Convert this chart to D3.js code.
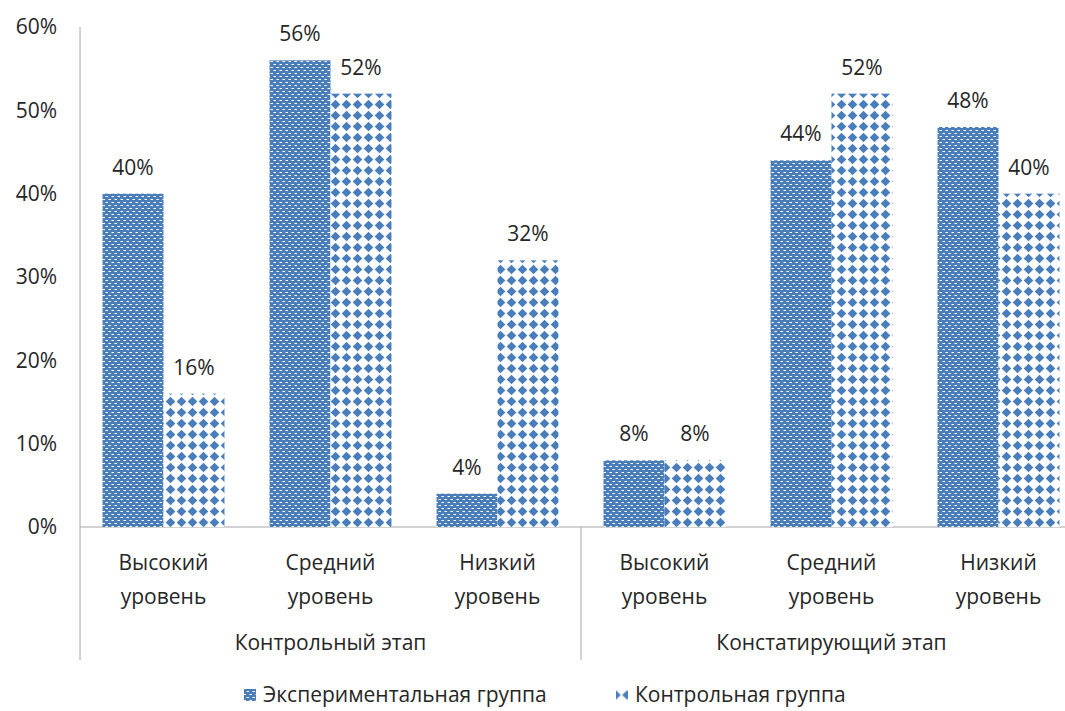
<!DOCTYPE html>
<html>
<head>
<meta charset="utf-8">
<script src="https://cdn.jsdelivr.net/npm/d3@7"></script>
<style>
  body { margin: 0; background: #fff; }
  svg { display: block; }
  text { font-family: "Open Sans", "Noto Sans", sans-serif; fill: #262626; }
</style>
</head>
<body>
<svg id="chart" width="1065" height="711"></svg>
<script>
// data
const stages = ["Контрольный этап", "Констатирующий этап"];
const levels = ["Высокий уровень", "Средний уровень", "Низкий уровень"];
const seriesNames = ["Экспериментальная группа", "Контрольная группа"];
const experimental = [40, 56, 4, 8, 44, 48];
const control = [16, 52, 32, 8, 52, 40];
const yTicks = [0, 10, 20, 30, 40, 50, 60];

const blue = "#4a7ebb";
const fs = 21;
const svg = d3.select("#chart");
const defs = svg.append("defs");
let legX = [244, 616];

// weave pattern for experimental group
let p1 = defs.append("pattern").attr("id", "patExp")
    .attr("patternUnits", "userSpaceOnUse").attr("width", 6).attr("height", 6);
p1.append("rect").attr("width", 6).attr("height", 6).attr("fill", blue);
p1.append("rect").attr("x", 0.5).attr("y", 1).attr("width", 2.5).attr("height", 1).attr("fill", "#fff");
p1.append("rect").attr("x", 3.5).attr("y", 4).attr("width", 2.5).attr("height", 1).attr("fill", "#fff");

// diamond pattern for control group (bars + shifted copy for legend)
function diamonds(id, x0, y0) {
    let p = defs.append("pattern").attr("id", id)
        .attr("patternUnits", "userSpaceOnUse").attr("width", 11).attr("height", 11)
        .attr("x", x0).attr("y", y0);
    p.append("rect").attr("width", 11).attr("height", 11).attr("fill", "#fff");
    p.append("path").attr("d", "M5.5,0.7 L10.3,5.5 L5.5,10.3 L0.7,5.5 Z").attr("fill", blue);
}
diamonds("patCtl", 0, 0);
diamonds("patCtlLeg", legX[1] - 5.5, 689.5);

// every category = stage + level
let cats = [];
stages.forEach((s, si) => levels.forEach((l, li) => cats.push({ stage: si, level: l })));

const x = d3.scaleBand().domain(d3.range(cats.length)).range([80, 1082])
    .paddingInner(0.27).paddingOuter(0.135);
const xs = d3.scaleBand().domain([0, 1]).range([0, x.bandwidth()]);
const y = d3.scaleLinear().domain([0, 60]).range([527, 27]);

// axes
let mid = x.range()[0] + (x.range()[1] - x.range()[0]) / 2;
svg.append("line").attr("x1", 80).attr("x2", 80).attr("y1", y(60)).attr("y2", 660)
    .attr("stroke", "#a6a6a6");
svg.append("line").attr("x1", 80).attr("x2", 1082).attr("y1", y(0)).attr("y2", y(0))
    .attr("stroke", "#a6a6a6");
svg.append("line").attr("x1", mid).attr("x2", mid)
    .attr("y1", y(0)).attr("y2", 660).attr("stroke", "#a6a6a6");

svg.selectAll(".ytick").data(yTicks).enter().append("text")
    .attr("class", "ytick")
    .attr("x", 57).attr("y", d => y(d)).attr("dy", "0.35em")
    .attr("text-anchor", "end").attr("font-size", fs)
    .text(d => d + "%");

// bars
let series = [experimental, control];
let fills = ["url(#patExp)", "url(#patCtl)"];
series.forEach((vals, si) => {
    let g = svg.append("g");
    g.selectAll("rect").data(vals).enter().append("rect")
        .attr("x", (d, i) => x(i) + xs(si))
        .attr("y", d => y(d))
        .attr("width", xs.bandwidth())
        .attr("height", d => y(0) - y(d))
        .attr("fill", fills[si]);
    g.selectAll("text").data(vals).enter().append("text")
        .attr("x", (d, i) => x(i) + xs(si) + xs.bandwidth() / 2)
        .attr("y", d => y(d) - 19)
        .attr("text-anchor", "middle").attr("font-size", fs)
        .text(d => d + "%");
});

// category labels
let cl = svg.selectAll(".cat").data(cats).enter().append("text")
    .attr("class", "cat")
    .attr("text-anchor", "middle").attr("font-size", fs);
cl.each(function (d, i) {
    let words = d.level.split(" ");
    let t = d3.select(this);
    words.forEach((w, wi) => {
        t.append("tspan").attr("x", x(i) + x.bandwidth() / 2)
            .attr("y", 570 + wi * 34).text(w);
    });
});

// stage labels
svg.selectAll(".stage").data(stages).enter().append("text")
    .attr("class", "stage")
    .attr("x", (d, i) => (x(i * 3) + x(i * 3 + 2) + x.bandwidth()) / 2)
    .attr("y", 650).attr("text-anchor", "middle").attr("font-size", fs)
    .text(d => d);

// legend
let legFills = ["url(#patExp)", "url(#patCtlLeg)"];
seriesNames.forEach((n, i) => {
    svg.append("rect").attr("x", legX[i]).attr("y", 689).attr("width", 12).attr("height", 12)
        .attr("fill", legFills[i]);
    svg.append("text").attr("x", legX[i] + 19).attr("y", 695).attr("dy", "0.35em")
        .attr("font-size", fs).text(n);
});
</script>
</body>
</html>
